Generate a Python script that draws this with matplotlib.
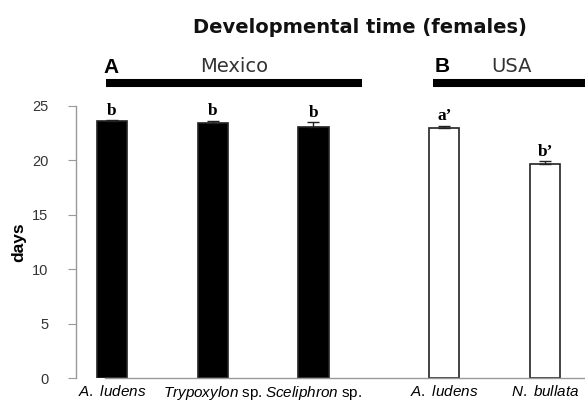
import numpy as np
import matplotlib
matplotlib.use("Agg")
import matplotlib.pyplot as plt

plt.rcParams.update({
    "font.family": ["Liberation Sans", "DejaVu Sans"],
    "mathtext.fontset": "custom",
    "mathtext.it": "Liberation Sans:italic",
    "mathtext.rm": "Liberation Sans",
})

# data
hosts = [r"$\mathit{A.\ ludens}$", r"$\mathit{Trypoxylon}$ sp.",
         r"$\mathit{Sceliphron}$ sp.", r"$\mathit{A.\ ludens}$",
         r"$\mathit{N.\ bullata}$"]
days = [23.65, 23.4, 23.1, 22.95, 19.65]
err = [0.05, 0.25, 0.4, 0.25, 0.25]
letters = ["b", "b", "b", "a\u2019", "b\u2019"]
colors = ["black", "black", "black", "white", "white"]
xpos = [0, 1, 2, 3.3, 4.3]

W, H = 585, 403
fig = plt.figure(figsize=(W/100, H/100), dpi=100)
ax = fig.add_axes([76/W, 1-378/H, 1-76/W, (378-106)/H])

ax.bar(xpos, days, width=0.3, color=colors, edgecolor="#222222", lw=1.2,
       yerr=[[0]*len(err), err], capsize=4,
       error_kw=dict(ecolor="#222222", elinewidth=1, capthick=1))
for x, v, e, t in zip(xpos, days, err, letters):
    ax.text(x, v + e + 0.5, t, ha="center", va="baseline", fontsize=12.5,
            fontweight="bold", family="Liberation Serif")

ax.set_xlim(-0.3575, 4.697)
ax.set_ylim(0, 25)
ax.set_yticks(range(0, 26, 5))
ax.set_xticks(xpos)
ax.set_xticklabels(hosts, fontsize=11)
ax.tick_params(axis="x", length=0, pad=4)
ax.tick_params(axis="y", length=6, color="#999999", labelsize=10.5, pad=14,
               labelcolor="#333333")
for s in ("top", "right"):
    ax.spines[s].set_visible(False)
for s in ("left", "bottom"):
    ax.spines[s].set_color("#999999")
    ax.spines[s].set_linewidth(1)
ax.spines["bottom"].set_bounds(-0.07, 4.697)
ax.set_ylabel("days", fontsize=12.5, fontweight="bold")
ax.yaxis.set_label_coords(-0.098, 0.5)

# group bars above the plot
ax.plot([-0.06, 2.48], [27.1, 27.1], color="black", lw=5.8,
        solid_capstyle="butt", clip_on=False)
ax.plot([3.19, 5.0], [27.1, 27.1], color="black", lw=5.8,
        solid_capstyle="butt", clip_on=False)

def ftext(x, y, s, **kw):
    fig.text(x/W, 1-y/H, s, va="baseline", **kw)

wide = ["DejaVu Sans"]
ftext(360, 33, "Developmental time (females)", ha="center", fontsize=14,
      fontweight="bold", color="#111111", family=wide)
ftext(111.5, 73, "A", ha="center", fontsize=15, fontweight="bold")
ftext(234, 72, "Mexico", ha="center", fontsize=14, color="#333333",
      family=wide)
ftext(442.5, 72, "B", ha="center", fontsize=15, fontweight="bold")
ftext(511.5, 72, "USA", ha="center", fontsize=14, color="#333333",
      family=wide)

fig.savefig("out.png", dpi=100)
